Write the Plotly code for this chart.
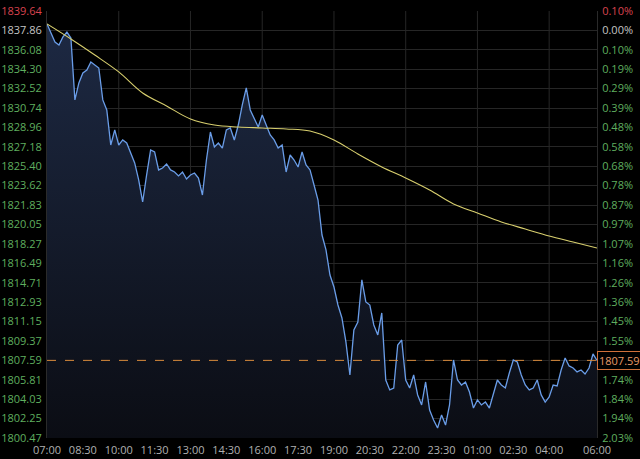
import pandas as pd
import plotly.graph_objects as go

# price, one point every 10 minutes from 07:00 to 06:00 next day
price = [1838.45, 1837.62, 1836.80, 1836.52, 1837.26, 1837.71, 1837.16, 1831.48, 1833.04, 1833.95,
         1834.23, 1834.96, 1834.69, 1834.41, 1831.48, 1830.56, 1827.35, 1828.73, 1827.35, 1827.81,
         1827.53, 1826.62, 1825.70, 1824.14, 1822.12, 1824.60, 1826.89, 1826.71, 1825.06, 1825.24,
         1825.61, 1825.06, 1824.87, 1824.51, 1824.87, 1824.23, 1824.60, 1824.78, 1824.32, 1822.76,
         1825.97, 1828.54, 1827.17, 1827.53, 1827.07, 1828.73, 1828.91, 1827.81, 1829.18, 1831.02,
         1832.58, 1830.56, 1829.83, 1829.00, 1830.10, 1829.18, 1828.27, 1827.81, 1827.07, 1827.35,
         1824.87, 1826.43, 1825.97, 1825.33, 1826.71, 1825.51, 1825.06, 1823.68, 1822.30, 1819.09,
         1817.72, 1815.42, 1814.32, 1812.67, 1811.48, 1809.28, 1806.25, 1810.38, 1811.11, 1814.97,
         1812.95, 1812.67, 1810.84, 1809.92, 1811.94, 1805.79, 1804.88, 1805.06, 1809.00, 1809.46,
         1805.79, 1805.06, 1806.25, 1804.42, 1803.50, 1805.61, 1803.04, 1802.12, 1801.39, 1802.58,
         1801.66, 1803.50, 1807.63, 1805.79, 1805.33, 1805.61, 1804.69, 1803.22, 1803.96, 1803.50,
         1803.77, 1803.22, 1804.42, 1805.79, 1805.33, 1805.06, 1806.43, 1807.63, 1807.44, 1806.25,
         1805.33, 1804.88, 1805.06, 1805.79, 1804.42, 1803.77, 1804.23, 1805.33, 1805.24, 1806.71,
         1807.81, 1807.08, 1806.89, 1806.53, 1806.71, 1806.34, 1806.89, 1808.18, 1807.59]

# moving average, hourly
ma = [1838.45, 1837.07, 1835.60, 1834.05, 1832.12, 1830.93, 1829.73, 1829.18, 1829.00, 1828.91,
      1828.82, 1828.63, 1827.81, 1826.52, 1825.33, 1824.32, 1823.22, 1821.94, 1821.11, 1820.29,
      1819.64, 1819.00, 1818.45, 1817.90]

last_price = 1807.59

y_ticks = [1839.64, 1837.86, 1836.08, 1834.30, 1832.52, 1830.74, 1828.96, 1827.18, 1825.40, 1823.62,
           1821.83, 1820.05, 1818.27, 1816.49, 1814.71, 1812.93, 1811.15, 1809.37, 1807.59, 1805.81,
           1804.03, 1802.25, 1800.47]
pct_labels = ["0.10%", "0.00%", "0.10%", "0.19%", "0.29%", "0.39%", "0.48%", "0.58%", "0.68%", "0.78%",
              "0.87%", "0.97%", "1.07%", "1.16%", "1.26%", "1.36%", "1.45%", "1.55%", "1.65%", "1.74%",
              "1.84%", "1.94%", "2.03%"]
x_labels = ["07:00", "08:30", "10:00", "11:30", "13:00", "14:30", "16:00", "17:30", "19:00", "20:30",
            "22:00", "23:30", "01:00", "02:30", "04:00", "06:00"]
x_label_times = ["2024-01-01 07:00", "2024-01-01 08:30", "2024-01-01 10:00", "2024-01-01 11:30",
                 "2024-01-01 13:00", "2024-01-01 14:30", "2024-01-01 16:00", "2024-01-01 17:30",
                 "2024-01-01 19:00", "2024-01-01 20:30", "2024-01-01 22:00", "2024-01-01 23:30",
                 "2024-01-02 01:00", "2024-01-02 02:30", "2024-01-02 04:00", "2024-01-02 06:00"]
grid_times = ["2024-01-01 10:00", "2024-01-01 13:00", "2024-01-01 16:00", "2024-01-01 19:00",
              "2024-01-01 22:00", "2024-01-02 01:00", "2024-01-02 04:00"]

RED = "#d9434f"
GREY = "#c4c4c4"
GREEN = "#5fae5f"


def colored(labels):
    out = []
    for i, t in enumerate(labels):
        c = RED if i == 0 else (GREY if i == 1 else GREEN)
        out.append("<span style='color:%s'>%s</span>" % (c, t))
    return out


times = pd.date_range("2024-01-01 07:00", periods=len(price), freq="10min")
ma_times = pd.date_range("2024-01-01 07:00", periods=len(ma), freq="60min")

fig = go.Figure()
fig.add_trace(go.Scatter(
    x=times, y=price, mode="lines",
    line=dict(color="#6a9de8", width=1.3),
    fill="tozeroy",
    fillgradient=dict(type="vertical", start=1800.47, stop=1838.5,
                      colorscale=[[0, "#0b0d14"], [1, "#1d2943"]]),
    showlegend=False, hoverinfo="skip"))
fig.add_trace(go.Scatter(
    x=ma_times, y=ma, mode="lines", line=dict(color="#d8cf6e", width=1.1, shape="spline"),
    showlegend=False, hoverinfo="skip"))
# invisible copy so the right axis is drawn
fig.add_trace(go.Scatter(x=times, y=price, yaxis="y2", mode="lines", opacity=0,
                         showlegend=False, hoverinfo="skip"))

for g in grid_times:
    fig.add_shape(type="line", xref="x", yref="paper", x0=g, x1=g, y0=0, y1=1,
                  line=dict(color="#262626", width=1), layer="below")

fig.add_shape(type="line", xref="paper", yref="y", x0=0, x1=1, y0=last_price, y1=last_price,
              line=dict(color="#d88a3c", width=1, dash="dash"))
fig.add_annotation(xref="paper", yref="y", x=1.0, y=last_price, xanchor="left", yanchor="middle",
                   text="%.2f" % last_price, showarrow=False,
                   font=dict(color="#e89a68", size=11),
                   bgcolor="#000000", bordercolor="#d0703a", borderwidth=1, borderpad=1)

yr = [1800.47, 1839.64]
fig.update_layout(
    width=640, height=459,
    margin=dict(l=47, r=43, t=11, b=21, autoexpand=False),
    paper_bgcolor="#000000", plot_bgcolor="#000000",
    font=dict(family="Open Sans", size=11, color="#b4b4b4"),
    xaxis=dict(type="date", range=["2024-01-01 07:00", "2024-01-02 06:00"], automargin=False,
               tickvals=x_label_times, ticktext=x_labels, showgrid=False, zeroline=False,
               showline=False, ticks="", ticklabelstandoff=4,
               tickfont=dict(color="#b0b0b0", size=11)),
    yaxis=dict(range=yr, tickvals=y_ticks, ticktext=colored(["%.2f" % v for v in y_ticks]),
               showgrid=True, gridcolor="#262626", zeroline=False, showline=True, automargin=False,
               linecolor="#2a2a2a", ticks="", ticklabelstandoff=2),
    yaxis2=dict(range=yr, overlaying="y", side="right", tickvals=y_ticks, automargin=False,
                ticktext=colored(pct_labels), showgrid=False, zeroline=False,
                showline=True, linecolor="#2a2a2a", ticks="", ticklabelstandoff=2),
)

fig.write_html("out.html", config={"displayModeBar": False},
               post_script="document.body.style.margin='0';document.body.style.background='#000';")
